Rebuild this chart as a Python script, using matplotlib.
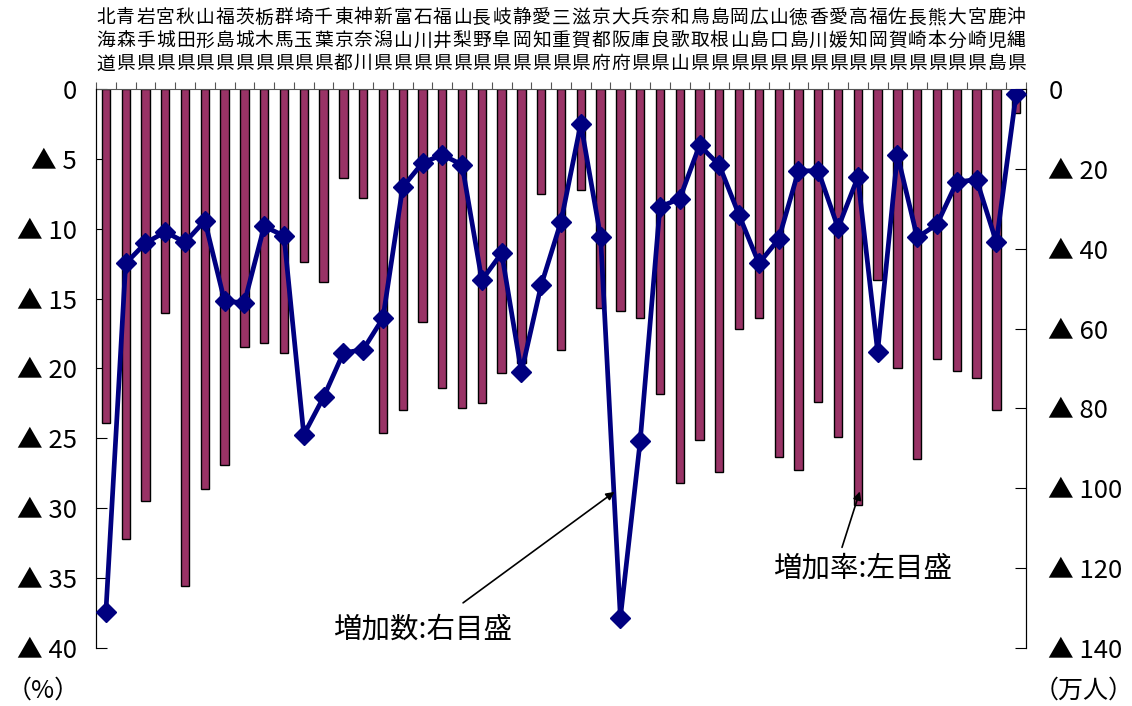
import numpy as np
import matplotlib
matplotlib.use("Agg")
import matplotlib.pyplot as plt

plt.rcParams['font.family'] = ['Noto Sans CJK JP', 'DejaVu Sans']

# 都道府県名(3文字ずつ縦書き)
prefs = ["北海道", "青森県", "岩手県", "宮城県", "秋田県", "山形県", "福島県", "茨城県",
         "栃木県", "群馬県", "埼玉県", "千葉県", "東京都", "神奈川", "新潟県", "富山県",
         "石川県", "福井県", "山梨県", "長野県", "岐阜県", "静岡県", "愛知県", "三重県",
         "滋賀県", "京都府", "大阪府", "兵庫県", "奈良県", "和歌山", "鳥取県", "島根県",
         "岡山県", "広島県", "山口県", "徳島県", "香川県", "愛媛県", "高知県", "福岡県",
         "佐賀県", "長崎県", "熊本県", "大分県", "宮崎県", "鹿児島", "沖縄県"]

# 増加率(%)  ※減少を正の値で持つ
rate = [23.9, 32.2, 29.5, 16.0, 35.6, 28.6, 26.9, 18.5, 18.2, 18.9, 12.4, 13.8,
        6.4, 7.8, 24.6, 23.0, 16.7, 21.4, 22.8, 22.5, 20.3, 19.6, 7.5, 18.7,
        7.2, 15.7, 15.9, 16.4, 21.8, 28.2, 25.1, 27.4, 17.2, 16.4, 26.3, 27.3,
        22.4, 24.9, 29.8, 13.7, 20.0, 26.5, 19.3, 20.2, 20.7, 23.0, 1.7]

# 増加数(万人)
count = [131.0, 43.7, 38.6, 35.8, 38.4, 33.0, 53.2, 53.5, 34.4, 36.8, 86.6, 77.2,
         66.1, 65.3, 57.4, 24.6, 18.5, 16.5, 19.0, 47.9, 41.1, 70.9, 49.1, 33.2,
         8.7, 37.0, 132.4, 88.2, 29.5, 27.5, 14.1, 19.1, 31.6, 43.7, 37.6, 20.5,
         20.5, 34.8, 22.1, 65.8, 16.5, 37.2, 33.9, 23.3, 22.7, 38.4, 1.3]

left_ticks = [0, 5, 10, 15, 20, 25, 30, 35, 40]
right_ticks = [0, 20, 40, 60, 80, 100, 120, 140]


def tri_label(v):
    return "0" if v == 0 else "▲ " + str(v)


x = np.arange(len(prefs))

fig = plt.figure(figsize=(11.32, 7.06), dpi=100)
ax = fig.add_axes([0.0848, 0.0822, 0.8216, 0.7918])

ax.bar(x, rate, width=0.42, color='#993366', edgecolor='black', linewidth=1.0, zorder=2)
ax.set_xlim(-0.5, len(prefs) - 0.5)
ax.set_ylim(40, 0)
ax.set_yticks(left_ticks)
ax.set_yticklabels([tri_label(v) for v in left_ticks], fontsize=18.5)
ax.tick_params(axis='y', direction='in', length=8, pad=14)

# 上側の区切り目盛
ax.xaxis.tick_top()
ax.set_xticks(np.arange(len(prefs) + 1) - 0.5)
ax.set_xticklabels([])
ax.tick_params(axis='x', direction='out', length=5, color='#555555')
ax.spines['bottom'].set_visible(False)
ax.spines['top'].set_color('#555555')

# 折れ線は右目盛
ax2 = ax.twinx()
ax2.plot(x, count, color='#000080', linewidth=3.4, marker='D', markersize=10.5,
         markerfacecolor='#000080', markeredgecolor='#000080', zorder=3)
ax2.set_ylim(140, 0)
ax2.set_yticks(right_ticks)
ax2.set_yticklabels([tri_label(v) for v in right_ticks], fontsize=18.5)
ax2.tick_params(axis='y', direction='in', length=8, pad=16)
ax2.spines['bottom'].set_visible(False)
ax2.spines['top'].set_visible(False)

# 都道府県名を1文字ずつ並べる
row_y = [1.127, 1.086, 1.045]
for i, name in enumerate(prefs):
    for k, ch in enumerate(name):
        ax.text(i, row_y[k], ch, transform=ax.get_xaxis_transform(),
                ha='center', va='center', fontsize=13.5)

# 注記
ax2.annotate('', xy=(25.7, 100.9), xytext=(18.05, 128.7),
             arrowprops=dict(arrowstyle='-|>', color='black', lw=1.2,
                             mutation_scale=12, shrinkA=0, shrinkB=0))
ax2.text(11.5, 135.5, '増加数:右目盛', fontsize=20.5, ha='left', va='center')

ax.annotate('', xy=(38.1, 28.8), xytext=(37.2, 32.8),
            arrowprops=dict(arrowstyle='-|>', color='black', lw=1.2,
                            mutation_scale=12, shrinkA=0, shrinkB=0), zorder=5)
ax2.text(33.7, 34.3 * 3.5, '増加率:左目盛', fontsize=20.5, ha='left', va='center')

fig.text(0.038, 0.022, '（%）', fontsize=18, ha='center', va='center')
fig.text(0.957, 0.022, '（万人）', fontsize=18, ha='center', va='center')

fig.savefig('out.png', dpi=100)
